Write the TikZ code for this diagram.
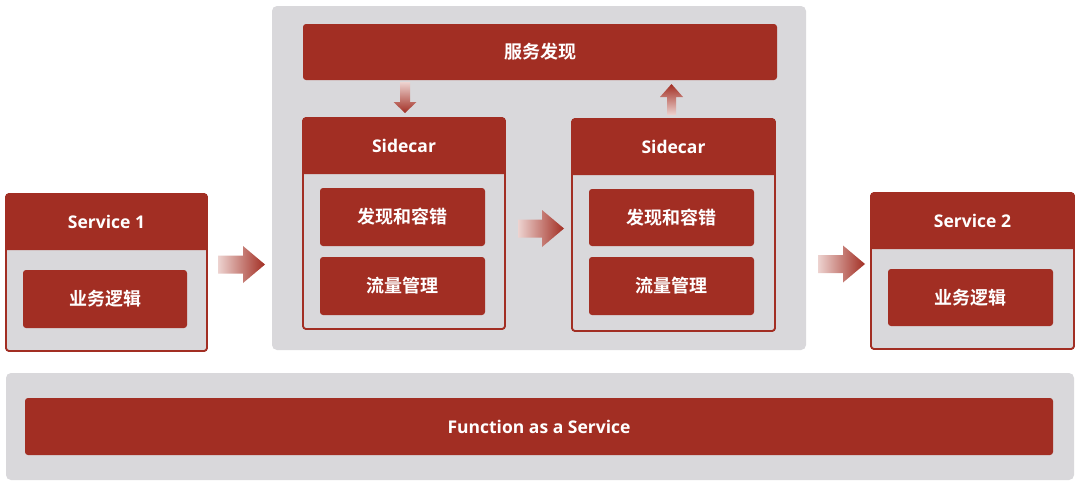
\documentclass[tikz,border=0pt]{standalone}
\usepackage{fontspec}
\setmainfont{Open Sans}
\newfontfamily\cjk{Noto Sans CJK SC}[BoldFont={* Bold}]
\definecolor{rd}{HTML}{A22E23}
\definecolor{gy}{HTML}{D9D8DB}
\definecolor{rdl}{HTML}{EDD3D0}
\newcommand\rbox[7][]{\node[#1, minimum width={(#5)-(#3)}, minimum height={(#6)-(#4)}] (#2) at ({((#3)+(#5))/2},{((#4)+(#6))/2}) {#7};}
% header fill with rounded top corners: x1 y1 x2 y2
\newcommand\hdrfill[4]{\fill[rd] (#1,#4) [rounded corners=3pt] -- (#1,#2) -- (#3,#2) [sharp corners] -- (#3,#4) -- cycle;}
% horizontal block arrow: x1 x2 yc
\newcommand\harrow[3]{\shade[left color=rdl, right color=rd] (#1,#3-9) -- ({#2-22},#3-9) -- ({#2-22},#3-18.5) -- (#2,#3) -- ({#2-22},#3+18.5) -- ({#2-22},#3+9) -- (#1,#3+9) -- cycle;}
\begin{document}
\begin{tikzpicture}[x=1pt,y=-1pt,
  redbox/.style={fill=rd, rounded corners=3pt, text=white, inner sep=0pt, font=\cjk\bfseries\fontsize{18}{21}\selectfont},
  frame/.style={fill=gy, draw=rd, line width=1.6pt, rounded corners=3pt, inner sep=0pt},
  outline/.style={draw=rd, line width=1.6pt, rounded corners=3pt, inner sep=0pt},
  panel/.style={fill=gy, rounded corners=5pt, inner sep=0pt},
  hdrtext/.style={text=white, inner sep=0pt, font=\bfseries\fontsize{17.5}{20}\selectfont},
  ]
\useasboundingbox[fill=white] (0,0) rectangle (1080,485);

% panels
\rbox[panel]{mesh}{272}{6}{806}{350}{}
\rbox[panel]{base}{6}{373}{1074}{480}{}

% Service 1
\rbox[frame]{s1}{6}{194}{207}{351}{}
\hdrfill{6}{194}{207}{250}
\rbox[outline]{s1o}{6}{194}{207}{351}{}
\node[hdrtext] (s1h) at (106.5,222) {Service 1};
\rbox[redbox]{s1b}{23}{270}{187}{328}{业务逻辑}

% Service 2
\rbox[frame]{s2}{871}{193}{1074}{349}{}
\hdrfill{871}{193}{1074}{249}
\rbox[outline]{s2o}{871}{193}{1074}{349}{}
\node[hdrtext] (s2h) at (972.5,221) {Service 2};
\rbox[redbox]{s2b}{888}{269}{1053}{326}{业务逻辑}

% discovery
\rbox[redbox]{disc}{303}{24}{777}{80}{服务发现}

% Sidecar 1
\rbox[frame]{sc1}{303}{118}{505}{329}{}
\hdrfill{303}{118}{505}{174}
\rbox[outline]{sc1o}{303}{118}{505}{329}{}
\node[hdrtext] (sc1h) at (404,146) {Sidecar};
\rbox[redbox]{sc1a}{320}{188}{485}{246}{发现和容错}
\rbox[redbox]{sc1b}{320}{257}{485}{315}{流量管理}

% Sidecar 2
\rbox[frame]{sc2}{572}{119}{775}{331}{}
\hdrfill{572}{119}{775}{175}
\rbox[outline]{sc2o}{572}{119}{775}{331}{}
\node[hdrtext] (sc2h) at (673.5,147) {Sidecar};
\rbox[redbox]{sc2a}{589}{189}{754}{246}{发现和容错}
\rbox[redbox]{sc2b}{589}{257}{754}{315}{流量管理}

% FaaS
\rbox[redbox]{faas}{25}{398}{1053}{455}{\rmfamily\bfseries\fontsize{17.5}{20}\selectfont Function as a Service}

% arrows
\harrow{218}{265}{264.5}
\harrow{518}{564}{228.5}
\harrow{818}{865}{264}
% down arrow
\shade[top color=rdl, bottom color=rd] (400,82) -- (410,82) -- (410,102) -- (416.5,102) -- (405,113) -- (393.5,102) -- (400,102) -- cycle;
% up arrow
\shade[top color=rd, bottom color=rdl] (667,115) -- (676,115) -- (676,97) -- (683,97) -- (671.5,84) -- (660,97) -- (667,97) -- cycle;
\end{tikzpicture}
\end{document}
